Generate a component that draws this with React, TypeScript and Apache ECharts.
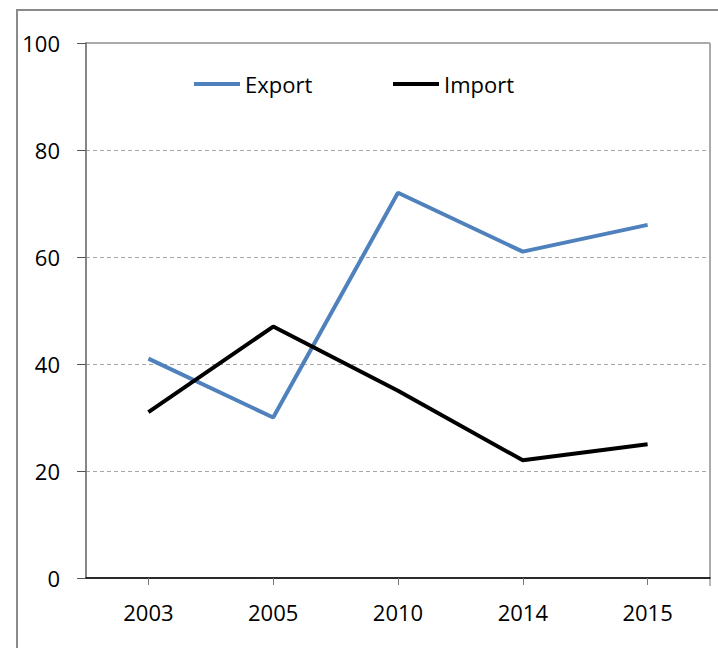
import React, { useEffect, useRef } from "react";
import * as echarts from "echarts";

const categories = ["2003", "2005", "2010", "2014", "2015"];
const exportValues = [41, 30, 72, 61, 66];
const importValues = [31, 47, 35, 22, 25];
const yTicks = { min: 0, max: 100, interval: 20 };

const FONT = "Open Sans";
const FS = 22;

export default function App() {
  const ref = useRef<HTMLDivElement>(null);
  useEffect(() => {
    if (!ref.current) return;
    const chart = echarts.init(ref.current, undefined, { renderer: "svg" });
    chart.setOption({
      animation: false,
      backgroundColor: "#ffffff",
      textStyle: { fontFamily: FONT },
      graphic: [
        {
          type: "rect",
          shape: { x: 17, y: 10, width: 720, height: 700 },
          style: { fill: "none", stroke: "#8a8a8a", lineWidth: 2 },
          silent: true,
        },
        {
          type: "line",
          shape: { x1: 710, y1: 578, x2: 710, y2: 586 },
          style: { stroke: "#777777", lineWidth: 1 },
          silent: true,
        },
      ],
      legend: [
        {
          data: ["Export"],
          left: 189,
          top: 68,
          icon: "rect",
          itemWidth: 46,
          itemHeight: 4,
          textStyle: { fontSize: FS, color: "#000", fontFamily: FONT },
        },
        {
          data: ["Import"],
          left: 388,
          top: 68,
          icon: "rect",
          itemWidth: 46,
          itemHeight: 4,
          textStyle: { fontSize: FS, color: "#000", fontFamily: FONT },
        },
      ],
      grid: {
        left: 86,
        top: 43,
        right: 8,
        bottom: 70,
        show: true,
        borderColor: "#595959",
        borderWidth: 1,
        containLabel: false,
      },
      xAxis: {
        type: "category",
        data: categories,
        boundaryGap: true,
        axisLine: { show: true, lineStyle: { color: "#000", width: 1.5 } },
        axisTick: {
          show: true,
          alignWithLabel: true,
          length: 7,
          lineStyle: { color: "#777" },
        },
        axisLabel: { fontSize: FS, color: "#000", margin: 23, fontFamily: FONT },
        splitLine: { show: false },
      },
      yAxis: {
        type: "value",
        min: yTicks.min,
        max: yTicks.max,
        interval: yTicks.interval,
        axisLine: { show: true, lineStyle: { color: "#868686", width: 2 } },
        axisTick: { show: true, inside: false, length: 9, lineStyle: { color: "#555" } },
        axisLabel: { fontSize: FS, color: "#000", margin: 26, fontFamily: FONT },
        splitLine: { show: true, lineStyle: { color: "#a6a6a6", type: [4, 3], width: 1 } },
      },
      series: [
        {
          name: "Export",
          type: "line",
          data: exportValues,
          showSymbol: false,
          symbol: "none",
          lineStyle: { color: "#4F81BD", width: 4 },
          itemStyle: { color: "#4F81BD" },
        },
        {
          name: "Import",
          type: "line",
          data: importValues,
          showSymbol: false,
          symbol: "none",
          lineStyle: { color: "#000000", width: 4 },
          itemStyle: { color: "#000000" },
        },
      ],
    });
    return () => chart.dispose();
  }, []);
  return (
    <div
      ref={ref}
      style={{ position: "fixed", left: 0, top: 0, width: 718, height: 648 }}
    />
  );
}
